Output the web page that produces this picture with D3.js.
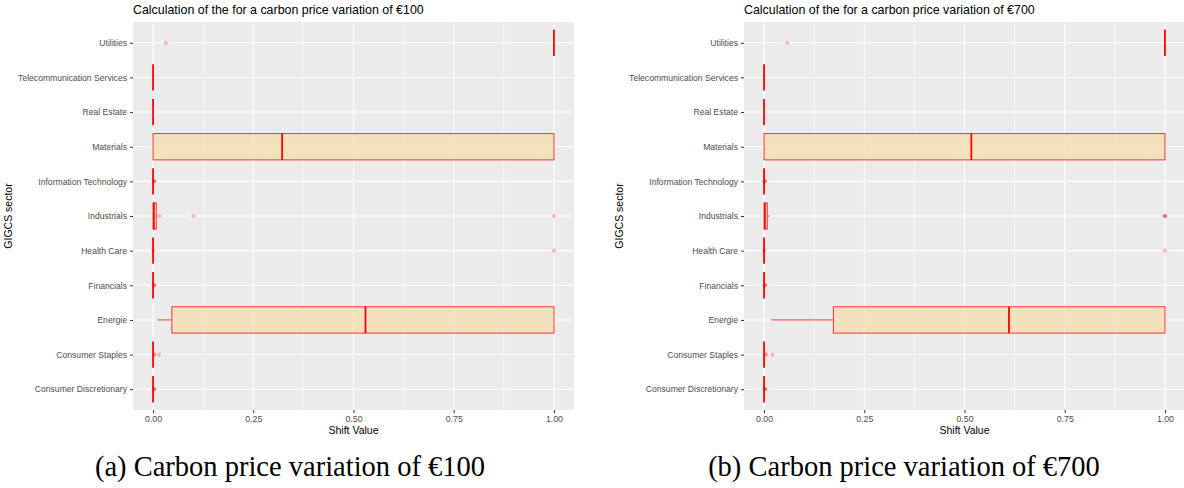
<!DOCTYPE html>
<html>
<head>
<meta charset="utf-8">
<script src="https://cdn.jsdelivr.net/npm/d3@7"></script>
<style>
  body { margin: 0; background: #fff; }
  svg { display: block; }
  .tick text { fill: #4d4d4d; font-family: "Liberation Sans", Arial, sans-serif; }
</style>
</head>
<body>
<svg width="1184" height="488"></svg>
<script>
// sectors, bottom to top
var sectors = ["Consumer Discretionary", "Consumer Staples", "Energie", "Financials", "Health Care",
  "Industrials", "Information Technology", "Materials", "Real Estate", "Telecommunication Services", "Utilities"];

var xTicks = [0, 0.25, 0.5, 0.75, 1];
var xMinor = [0.125, 0.375, 0.625, 0.875];

// carbon price variation of 100 : [lower whisker, q1, median, q3, upper whisker]
var stats100 = [
  [0, 0, 0, 0, 0],
  [0, 0, 0, 0, 0],
  [0.01, 0.047, 0.53, 1, 1],
  [0, 0, 0, 0, 0],
  [0, 0, 0, 0, 0],
  [0, 0, 0.002, 0.008, 0.008],
  [0, 0, 0, 0, 0],
  [0, 0, 0.322, 1, 1],
  [0, 0, 0, 0, 0],
  [0, 0, 0, 0, 0],
  [1, 1, 1, 1, 1]
];
var outliers100 = [
  [0.002, 0.002, 0.003],
  [0.003, 0.003, 0.015],
  [],
  [0.002, 0.002, 0.003],
  [0.001, 1],
  [0.015, 0.101, 1],
  [0.002, 0.002, 0.003],
  [],
  [],
  [],
  [0.032]
];

// carbon price variation of 700
var stats700 = [
  [0, 0, 0, 0, 0],
  [0, 0, 0, 0, 0],
  [0.018, 0.173, 0.611, 1, 1],
  [0, 0, 0, 0, 0],
  [0, 0, 0, 0, 0],
  [0, 0, 0.002, 0.008, 0.014],
  [0, 0, 0, 0, 0],
  [0, 0, 0.517, 1, 1],
  [0, 0, 0, 0, 0],
  [0, 0, 0, 0, 0],
  [1, 1, 1, 1, 1]
];
var outliers700 = [
  [0.002, 0.002, 0.003],
  [0.004, 0.004, 0.021],
  [],
  [0.002, 0.002, 0.003],
  [0.001, 1],
  [1, 1, 1],
  [0.001, 0.002, 0.002],
  [],
  [],
  [],
  [0.058]
];

var svg = d3.select("svg");
var font = "'Liberation Sans', Arial, sans-serif";

function drawPanel(left, right, title, caption, capX, stats, outs) {
  var top = 22, bottom = 410;
  var x = d3.scaleLinear().domain([-0.05, 1.05]).range([left, right]);
  var y = d3.scalePoint().domain(sectors).range([bottom, top]).padding(0.6);
  var step = y.step();
  var bh = step * 0.76;

  var g = svg.append("g");

  g.append("rect")
    .attr("x", left).attr("y", top)
    .attr("width", right - left).attr("height", bottom - top)
    .attr("fill", "#ebebeb");

  g.selectAll(".minor").data(xMinor).enter().append("line")
    .attr("x1", function(d) { return x(d); }).attr("x2", function(d) { return x(d); })
    .attr("y1", top).attr("y2", bottom)
    .attr("stroke", "#fff").attr("stroke-width", 0.6);

  g.selectAll(".major").data(xTicks).enter().append("line")
    .attr("x1", function(d) { return x(d); }).attr("x2", function(d) { return x(d); })
    .attr("y1", top).attr("y2", bottom)
    .attr("stroke", "#fff").attr("stroke-width", 1.1);

  g.selectAll(".hgrid").data(sectors).enter().append("line")
    .attr("x1", left).attr("x2", right)
    .attr("y1", function(d) { return y(d); }).attr("y2", function(d) { return y(d); })
    .attr("stroke", "#fff").attr("stroke-width", 1.1);

  // boxes
  var box = g.selectAll(".box").data(sectors).enter().append("g");

  box.append("line")
    .attr("x1", function(d, i) { return x(stats[i][0]); })
    .attr("x2", function(d, i) { return x(stats[i][1]); })
    .attr("y1", function(d) { return y(d); }).attr("y2", function(d) { return y(d); })
    .attr("stroke", "#ff3333").attr("stroke-width", 1);
  box.append("line")
    .attr("x1", function(d, i) { return x(stats[i][3]); })
    .attr("x2", function(d, i) { return x(stats[i][4]); })
    .attr("y1", function(d) { return y(d); }).attr("y2", function(d) { return y(d); })
    .attr("stroke", "#ff3333").attr("stroke-width", 1);

  box.append("rect")
    .attr("x", function(d, i) { return x(stats[i][1]); })
    .attr("width", function(d, i) { return x(stats[i][3]) - x(stats[i][1]); })
    .attr("y", function(d) { return y(d) - bh / 2; })
    .attr("height", bh)
    .attr("fill", "#f5deb3").attr("fill-opacity", 0.8)
    .attr("stroke", "#ff3333").attr("stroke-width", 1);

  box.append("line")
    .attr("x1", function(d, i) { return x(stats[i][2]); })
    .attr("x2", function(d, i) { return x(stats[i][2]); })
    .attr("y1", function(d) { return y(d) - bh / 2; })
    .attr("y2", function(d) { return y(d) + bh / 2; })
    .attr("stroke", "#ff0000").attr("stroke-width", 1.8);

  // outliers
  var pts = [];
  sectors.forEach(function(s, i) {
    outs[i].forEach(function(v) { pts.push({ s: s, v: v }); });
  });
  g.selectAll(".out").data(pts).enter().append("circle")
    .attr("cx", function(d) { return x(d.v); })
    .attr("cy", function(d) { return y(d.s); })
    .attr("r", 2.1)
    .attr("fill", "#ff0000").attr("fill-opacity", 0.25);

  // axes
  var xAxis = g.append("g")
    .attr("transform", "translate(0," + bottom + ")")
    .call(d3.axisBottom(x).tickValues(xTicks).tickFormat(d3.format(".2f")).tickSize(3).tickPadding(3));
  xAxis.select(".domain").remove();
  xAxis.selectAll(".tick line").attr("stroke", "#333");
  xAxis.selectAll(".tick text").attr("font-size", 8.8);

  var yAxis = g.append("g")
    .attr("transform", "translate(" + left + ",0)")
    .call(d3.axisLeft(y).tickSize(3).tickPadding(3));
  yAxis.select(".domain").remove();
  yAxis.selectAll(".tick line").attr("stroke", "#333");
  yAxis.selectAll(".tick text").attr("font-size", 8.6);

  g.append("text")
    .attr("x", left).attr("y", 14)
    .attr("font-family", font).attr("font-size", 12.4)
    .attr("fill", "#000")
    .text(title);

  g.append("text")
    .attr("x", (left + right) / 2).attr("y", 434)
    .attr("text-anchor", "middle")
    .attr("font-family", font).attr("font-size", 10.5)
    .attr("fill", "#000")
    .text("Shift Value");

  g.append("text")
    .attr("transform", "translate(" + (left - 121) + "," + ((top + bottom) / 2) + ") rotate(-90)")
    .attr("text-anchor", "middle")
    .attr("font-family", font).attr("font-size", 10.5)
    .attr("fill", "#000")
    .text("GIGCS sector");

  g.append("text")
    .attr("x", capX).attr("y", 476)
    .attr("text-anchor", "middle")
    .attr("font-family", "'Liberation Serif', 'DejaVu Serif', serif").attr("font-size", 28.5)
    .attr("fill", "#000")
    .text(caption);
}

drawPanel(133, 574, "Calculation of the for a carbon price variation of €100",
  "(a) Carbon price variation of €100", 290, stats100, outliers100);
drawPanel(744, 1185, "Calculation of the for a carbon price variation of €700",
  "(b) Carbon price variation of €700", 904, stats700, outliers700);
</script>
</body>
</html>
